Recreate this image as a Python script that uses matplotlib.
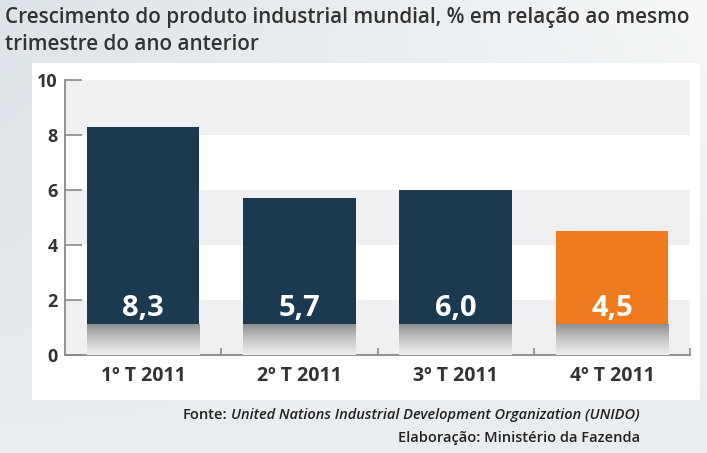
import numpy as np
import matplotlib
matplotlib.use("Agg")
import matplotlib.pyplot as plt
from matplotlib.patches import Rectangle
from matplotlib.colors import LinearSegmentedColormap

categories = ["1º T 2011", "2º T 2011", "3º T 2011", "4º T 2011"]
values = [8.3, 5.7, 6.0, 4.5]
labels = ["8,3", "5,7", "6,0", "4,5"]
colors = ["#1b3a4f", "#1b3a4f", "#1b3a4f", "#f07a1e"]
yticks = [0, 2, 4, 6, 8, 10]

W, H = 707, 453
fig = plt.figure(figsize=(W/100, H/100), dpi=100)

# background gradient
bg = fig.add_axes([0, 0, 1, 1], zorder=-10)
bg.axis("off")
yy = np.linspace(0, 1, 200)[:, None]
xx = np.linspace(0, 1, 300)[None, :]
grad = 0.88 + 0.1 * xx * (1 - yy) + 0.05 * yy
bgcmap = LinearSegmentedColormap.from_list("bg", ["#d5dde3", "#fbfcfc"])
bg.imshow(grad, cmap=bgcmap, vmin=0.85, vmax=1.0, aspect="auto", extent=[0, 1, 0, 1], origin="upper")
bg.set_xlim(0, 1); bg.set_ylim(0, 1)
bg.add_patch(Rectangle((32/W, 1-400/H), (700-32)/W, (400-63)/H, facecolor="white", edgecolor="none"))

fig.text(5/W, 1-18/H, "Crescimento do produto industrial mundial, % em relação ao mesmo",
         fontsize=14.9, fontfamily="Open Sans", fontweight="semibold", color="#333333", va="center")
fig.text(5/W, 1-45/H, "trimestre do ano anterior",
         fontsize=14.9, fontfamily="Open Sans", fontweight="semibold", color="#333333", va="center")

ax = fig.add_axes([65/W, 98/H, (690-65)/W, (355-80)/H])
ax.set_xlim(-0.5, 3.5)
ax.set_ylim(0, 10)
ax.patch.set_alpha(0)

for y0 in [0, 4, 8]:
    ax.axhspan(y0, y0 + 2, color="#f0f0f2", zorder=0, lw=0)

x = np.arange(len(categories))
bw = 0.72
ax.bar(x, values, width=bw, color=colors, zorder=2)

shadow = LinearSegmentedColormap.from_list("sh", ["#efeff0", "#c8c8ca", "#909092"])
sg = np.linspace(0, 1, 100)[:, None]
for xi in x:
    ax.imshow(sg, cmap=shadow, aspect="auto", origin="lower",
              extent=[xi - bw/2, xi + bw/2, 0, 1.1], zorder=3)
for xi, lab in zip(x, labels):
    ax.text(xi, 1.15, lab, ha="center", va="bottom", color="white", fontsize=21,
            fontfamily="Open Sans", fontweight="bold", zorder=4)

for s in ["top", "right"]:
    ax.spines[s].set_visible(False)
ax.spines["left"].set_color("#8a8a8a")
ax.spines["bottom"].set_color("#8a8a8a")
ax.spines["left"].set_linewidth(1.3)
ax.spines["bottom"].set_linewidth(1.3)
ax.set_yticks(yticks)
ax.set_yticklabels([str(t) for t in yticks], fontfamily="Open Sans", fontweight="bold",
                   fontsize=13, color="#333333")
ax.tick_params(axis="y", direction="in", length=12, color="#8a8a8a", width=1.2, pad=5)
ax.set_xticks([0.5, 1.5, 2.5, 3.5])
ax.set_xticklabels([])
ax.tick_params(axis="x", direction="in", length=5, color="#8a8a8a", width=1.2)
for xi, c in zip(x, categories):
    ax.text(xi, -0.4, c, ha="center", va="top", fontfamily="Open Sans", fontweight="bold",
            fontsize=14, color="#333333", transform=ax.transData, clip_on=False)

it = fig.text(640/W, 1-415/H, "United Nations Industrial Development Organization (UNIDO)",
              ha="right", va="center", fontsize=10.5, fontfamily="Open Sans", fontweight="semibold",
              style="italic", color="#222222")
fig.canvas.draw()
r = fig.canvas.get_renderer()
bb = it.get_window_extent(renderer=r)
fig.text((bb.x0 - 4)/W, 1-415/H, "Fonte:", ha="right", va="center", fontsize=10.5,
         fontfamily="Open Sans", fontweight="semibold", color="#222222")
fig.text(640/W, 1-438/H, "Elaboração: Ministério da Fazenda", ha="right", va="center",
         fontsize=10.5, fontfamily="Open Sans", fontweight="semibold", color="#222222")

fig.savefig("out.png", dpi=100)
